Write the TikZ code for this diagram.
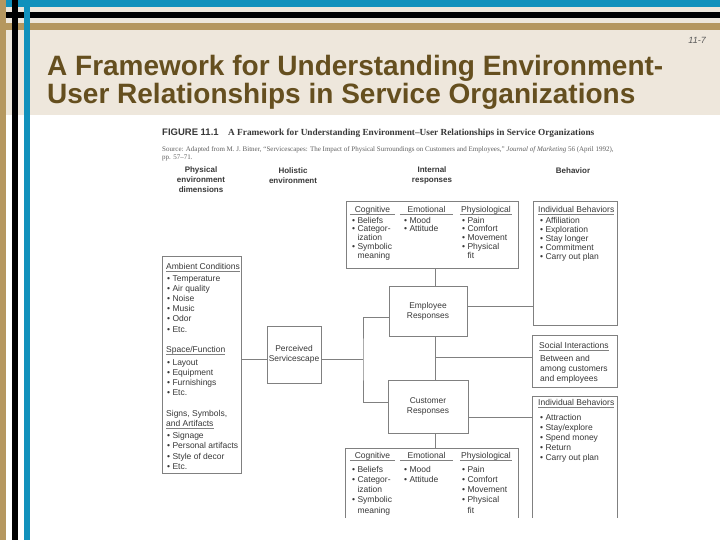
\documentclass[tikz,border=0pt]{standalone}
\usepackage{fontspec}
\setmainfont{Liberation Sans}
\newfontfamily\serifface{Liberation Serif}
\usetikzlibrary{positioning}

\definecolor{slideblue}{HTML}{1191BC}
\definecolor{slidetan}{HTML}{B5975F}
\definecolor{slidebeige}{HTML}{EEE7DC}
\definecolor{titlebrown}{HTML}{654F1F}
\definecolor{scanline}{HTML}{808080}
\definecolor{scanink}{HTML}{383838}

\tikzset{
    box/.style={
    rectangle,draw=scanline,line width=0.9pt,inner sep=0pt,align=center,
    text=scanink,font=\fontsize{8.4}{10}\selectfont
    },
    openbox/.style={
    rectangle,inner sep=0pt
    },
    link/.style={
    draw=scanline,line width=0.9pt
    },
    item/.style={
    anchor=base west,inner sep=0pt,text=scanink,font=\fontsize{8.5}{9}\selectfont
    },
    group/.style={
    item,anchor=base
    },
    colhead/.style={
    align=center,inner sep=0pt,text=scanink,font=\bfseries\fontsize{8}{10}\selectfont
    },
    underline/.style={
    draw=scanline,line width=0.7pt
    },
}

\begin{document}
\begin{tikzpicture}[x=1pt,y=-1pt]
  \useasboundingbox (0,0) rectangle (720,540);
  % slide frame
  \fill[white] (0,0) rectangle (720,540);
  \fill[slidebeige] (0,0) rectangle (720,115);
  \fill[slideblue] (0,0) rectangle (720,7);
  \fill[black] (0,12) rectangle (720,18);
  \fill[slidetan] (0,23) rectangle (720,30);
  \fill[slidetan] (0,0) rectangle (6,540);
  \fill[black] (12,0) rectangle (18,540);
  \fill[slideblue] (24,0) rectangle (30,540);

  \node[anchor=base east,inner sep=0pt,font=\itshape\fontsize{9}{9}\selectfont,text=black!65] (pageno) at (706,44) {11-7};
  \node[anchor=base west,inner sep=0pt,font=\bfseries\fontsize{28}{28}\selectfont,text=titlebrown] (title) at (47,76) {A Framework for Understanding Environment-};
  \node[anchor=base west,inner sep=0pt,font=\bfseries\fontsize{28}{28}\selectfont,text=titlebrown] (title2) at (47,104) {User Relationships in Service Organizations};

  % figure caption
  \node[anchor=base west,inner sep=0pt,font=\bfseries\fontsize{9.5}{10}\selectfont,text=scanink] (fignum) at (162,135.5) {FIGURE 11.1};
  \node[anchor=base west,inner sep=0pt,font=\serifface\bfseries\fontsize{9.3}{10}\selectfont,text=scanink] (figtitle) at (228,135.5) {A Framework for Understanding Environment–User Relationships in Service Organizations};
  \node[anchor=base west,inner sep=0pt,font=\serifface\fontsize{7}{7}\selectfont,text=scanink!80] (source) at (162,152) {Source: Adapted from M. J. Bitner, “Servicescapes: The Impact of Physical Surroundings on Customers and Employees,” \textit{Journal of Marketing} 56 (April 1992),};
  \node[anchor=base west,inner sep=0pt,font=\serifface\fontsize{7}{7}\selectfont,text=scanink!80] (source2) at (162,159.5) {pp. 57–71.};

  % column headings
  \node[colhead] (hdphys) at (201,180) {Physical\\environment\\dimensions};
  \node[colhead] (hdholi) at (293,175.5) {Holistic\\environment};
  \node[colhead] (hdint) at (432,175.5) {Internal\\responses};
  \node[colhead] (hdbeh) at (573,170.5) {Behavior};

  % boxes
  \node[box,minimum width=79,minimum height=217] (phys) at (201.5,364.5) {};
  \node[box,minimum width=54,minimum height=57] (perc) at (294,354.5) {Perceived\\Servicescape};
  \node[box,minimum width=78,minimum height=50] (emp) at (428,311) {Employee\\Responses};
  \node[box,minimum width=80,minimum height=53] (cust) at (428,406.5) {Customer\\Responses};
  \node[box,minimum width=172,minimum height=67] (intA) at (432,234.5) {};
  \node[openbox,minimum width=172,minimum height=69] (intB) at (432,483.5) {};
  \node[box,minimum width=84,minimum height=124] (behA) at (575,263) {};
  \node[box,minimum width=85,minimum height=52] (social) at (574.5,361) {};
  \node[openbox,minimum width=84,minimum height=121] (behB) at (575,457.5) {};
  \draw[link] (intB.south west) |- (intB.north east) -- (intB.south east);
  \draw[link] (behB.south west) |- (behB.north east) -- (behB.south east);

  % physical environment dimensions
  \node[item] (ambient) at (166,269) {Ambient Conditions};
  \draw[underline] ([yshift=-2.5]ambient.base west) -- ([yshift=-2.5]ambient.base east);
  \foreach \t [count=\i] in {Temperature,Air quality,Noise,Music,Odor,Etc.}
    \node[item] (amb\i) at (167,270.8+10.2*\i) {\textbullet\ \t};
  \node[item] (space) at (166,352) {Space/Function};
  \draw[underline] ([yshift=-2.5]space.base west) -- ([yshift=-2.5]space.base east);
  \foreach \t [count=\i] in {Layout,Equipment,Furnishings,Etc.}
    \node[item] (spc\i) at (167,354.8+10.2*\i) {\textbullet\ \t};
  \node[item] (signs) at (166,416) {Signs, Symbols,};
  \node[item] (signs2) at (166,426) {and Artifacts};
  \draw[underline] ([yshift=-2.5]signs2.base west) -- ([yshift=-2.5]signs2.base east);
  \foreach \t [count=\i] in {Signage,Personal artifacts,Style of decor,Etc.}
    \node[item] (sgn\i) at (167,428.5+10.2*\i) {\textbullet\ \t};

  % employee internal responses
  \node[group,minimum width=45] (cogA) at (372.5,212.5) {Cognitive};
  \node[group,minimum width=53] (emoA) at (426.5,212.5) {Emotional};
  \node[group,minimum width=52] (phyA) at (486,212.5) {Physiological};
  \foreach \h in {cogA,emoA,phyA}
    \draw[underline] ([yshift=-2]\h.base west) -- ([yshift=-2]\h.base east);
  \foreach \t [count=\i] in {\textbullet\ Beliefs,\textbullet\ Categor-,\hphantom{\textbullet\ }ization,\textbullet\ Symbolic,\hphantom{\textbullet\ }meaning}
    \node[item] (cogA\i) at (352,214.2+8.8*\i) {\t};
  \foreach \t [count=\i] in {Mood,Attitude}
    \node[item] (emoA\i) at (404,214.2+8.8*\i) {\textbullet\ \t};
  \foreach \t [count=\i] in {\textbullet\ Pain,\textbullet\ Comfort,\textbullet\ Movement,\textbullet\ Physical,\hphantom{\textbullet\ }fit}
    \node[item] (phyA\i) at (462,214.2+8.8*\i) {\t};

  % customer internal responses
  \node[group,minimum width=45] (cogB) at (372.5,458.5) {Cognitive};
  \node[group,minimum width=53] (emoB) at (426.5,458.5) {Emotional};
  \node[group,minimum width=52] (phyB) at (486,458.5) {Physiological};
  \foreach \h in {cogB,emoB,phyB}
    \draw[underline] ([yshift=-2]\h.base west) -- ([yshift=-2]\h.base east);
  \foreach \t [count=\i] in {\textbullet\ Beliefs,\textbullet\ Categor-,\hphantom{\textbullet\ }ization,\textbullet\ Symbolic,\hphantom{\textbullet\ }meaning}
    \node[item] (cogB\i) at (352,461.7+10.3*\i) {\t};
  \foreach \t [count=\i] in {Mood,Attitude}
    \node[item] (emoB\i) at (404,461.7+10.3*\i) {\textbullet\ \t};
  \foreach \t [count=\i] in {\textbullet\ Pain,\textbullet\ Comfort,\textbullet\ Movement,\textbullet\ Physical,\hphantom{\textbullet\ }fit}
    \node[item] (phyB\i) at (462,461.7+10.3*\i) {\t};

  % behaviors
  \node[item] (indA) at (538,212.5) {Individual Behaviors};
  \draw[underline] ([yshift=-2]indA.base west) -- ([yshift=-2]indA.base east);
  \foreach \t [count=\i] in {Affiliation,Exploration,Stay longer,Commitment,Carry out plan}
    \node[item] (indA\i) at (540,213.8+9.2*\i) {\textbullet\ \t};
  \node[item] (socl) at (539,348) {Social Interactions};
  \draw[underline] ([yshift=-2]socl.base west) -- ([yshift=-2]socl.base east);
  \foreach \t [count=\i] in {Between and,among customers,and employees}
    \node[item] (socl\i) at (540,351+10*\i) {\t};
  \node[item] (indB) at (538,405) {Individual Behaviors};
  \draw[underline] ([yshift=-2]indB.base west) -- ([yshift=-2]indB.base east);
  \foreach \t [count=\i] in {Attraction,Stay/explore,Spend money,Return,Carry out plan}
    \node[item] (indB\i) at (540,410+10*\i) {\textbullet\ \t};

  % connectors
  \coordinate (spine) at (435,0);
  \coordinate (fork) at (363,359);
  \draw[link] (phys.east |- fork) -- (perc.west |- fork);
  \draw[link] (perc.east |- fork) -- (fork);
  \draw[link] ([yshift=-6]emp.west) -| (fork) |- ([yshift=4.5]cust.west);
  \draw[link] (intA.south -| spine) -- (emp.north -| spine);
  \draw[link] (emp.south -| spine) -- (cust.north -| spine);
  \draw[link] (cust.south -| spine) -- (intB.north -| spine);
  \draw[link] ([yshift=5]emp.east) -- ([yshift=5]emp.east -| behA.west);
  \draw[link] ([yshift=4]social.west) -- ([yshift=4]social.west -| spine);
  \draw[link] ([yshift=-10.5]cust.east) -- ([yshift=-10.5]cust.east -| behB.west);
\end{tikzpicture}
\end{document}
